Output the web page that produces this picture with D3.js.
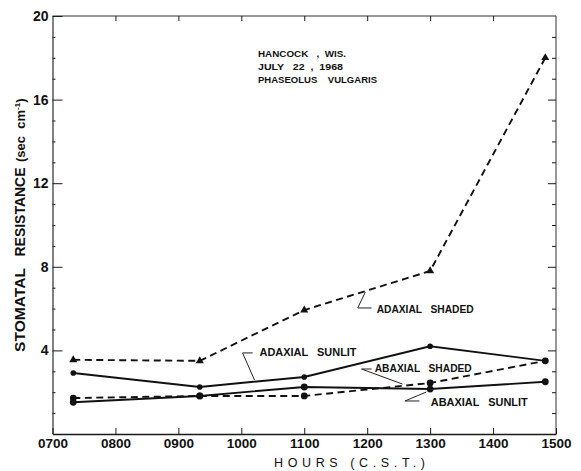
<!DOCTYPE html>
<html>
<head>
<meta charset="utf-8">
<script src="https://cdn.jsdelivr.net/npm/d3@7"></script>
<style>
  body { margin: 0; background: #fff; }
  svg { display: block; font-family: "Liberation Sans", Arial, sans-serif; }
  svg text { white-space: pre; }
  .axis path, .axis line { stroke: #1a1a1a; }
  .axis text { fill: #111; font-weight: bold; }
</style>
</head>
<body>
<div id="chart"></div>
<script>
// Stomatal resistance, Hancock WIS, July 22 1968 (Phaseolus vulgaris)
const hours = [7.33, 9.34, 11.0, 13.0, 14.83];
const adaxialShaded = [3.55, 3.5, 5.93, 7.8, 18.0];
const adaxialSunlit = [2.92, 2.25, 2.73, 4.2, 3.5];
const abaxialShaded = [1.72, 1.82, 1.82, 2.44, 3.5];
const abaxialSunlit = [1.52, 1.82, 2.25, 2.15, 2.5];

const xTicks = [7, 8, 9, 10, 11, 12, 13, 14, 15];
const xTickLabels = ['0700', '0800', '0900', '1000', '1100', '1200', '1300', '1400', '1500'];
const yTicks = [4, 8, 12, 16, 20];
const yMinorTicks = d3.range(1, 20);

const noteLines = ['HANCOCK   ,  WIS.', 'JULY   22  ,  1968', 'PHASEOLUS    VULGARIS'];
const noteWidths = [88, 85, 119];

// label text, anchor point [hour, value] for text, pointer polyline in data units
const seriesLabels = [
  { text: 'ADAXIAL   SHADED', at: [12.15, 5.98], pointer: [[11.97, 6.79], [11.85, 6.03], [12.07, 6.03]] },
  { text: 'ADAXIAL   SUNLIT', at: [10.29, 3.92], pointer: [[10.21, 2.58], [10.02, 3.88], [10.18, 3.88]] },
  { text: 'ABAXIAL   SHADED', at: [12.12, 3.16], pointer: [[12.56, 2.39], [11.91, 3.11], [12.07, 3.11]] },
  { text: 'ABAXIAL   SUNLIT', at: [13.01, 1.53], pointer: [[12.94, 2.01], [12.60, 1.58], [12.83, 1.58]] }
];

const series = [
  { name: 'adaxialShaded', values: adaxialShaded, dashed: true, marker: 'triangle' },
  { name: 'adaxialSunlit', values: adaxialSunlit, dashed: false, marker: 'dot' },
  { name: 'abaxialShaded', values: abaxialShaded, dashed: true, marker: 'circle' },
  { name: 'abaxialSunlit', values: abaxialSunlit, dashed: false, marker: 'circle' }
];

const W = 581, H = 471;
const margin = { top: 16, right: 25, bottom: 37, left: 52.5 };
const width = W - margin.left - margin.right;
const height = H - margin.top - margin.bottom;

const svg = d3.select('#chart').append('svg')
  .attr('width', W)
  .attr('height', H);

const g = svg.append('g')
  .attr('transform', `translate(${margin.left},${margin.top})`);

const x = d3.scaleLinear().domain([7, 15]).range([0, width]);
const y = d3.scaleLinear().domain([0, 20]).range([height, 0]);

// frame: top and right sides
g.append('line').attr('x1', 0).attr('x2', width).attr('y1', 0).attr('y2', 0)
  .attr('stroke', '#333').attr('stroke-width', 1);
g.append('line').attr('x1', width).attr('x2', width).attr('y1', 0).attr('y2', height)
  .attr('stroke', '#333').attr('stroke-width', 1);

// bottom axis (ticks point up)
const xAxisG = g.append('g')
  .attr('class', 'axis')
  .attr('transform', `translate(0,${height})`)
  .call(d3.axisBottom(x).tickValues(xTicks)
    .tickFormat((d, i) => xTickLabels[i])
    .tickSize(-6).tickSizeOuter(0).tickPadding(4));
xAxisG.select('.domain').attr('stroke-width', 1.4);
xAxisG.selectAll('text').style('font-size', '13.5px');

// top ticks (point down)
const topAxis = g.append('g')
  .attr('class', 'axis')
  .call(d3.axisTop(x).tickValues(xTicks.slice(1, -1)).tickFormat('').tickSize(-5).tickSizeOuter(0));
topAxis.select('.domain').remove();

// left axis: major + minor ticks inside
const yAxisG = g.append('g')
  .attr('class', 'axis')
  .call(d3.axisLeft(y).tickValues(yTicks).tickSize(-10).tickSizeOuter(0).tickPadding(4));
yAxisG.select('.domain').attr('stroke-width', 1.1);
yAxisG.selectAll('text').style('font-size', '14px');

const yMinorG = g.append('g')
  .attr('class', 'axis')
  .call(d3.axisLeft(y).tickValues(yMinorTicks.filter(v => v % 4 !== 0)).tickFormat('').tickSize(-3));
yMinorG.select('.domain').remove();

// right axis ticks inside
const yRightG = g.append('g')
  .attr('class', 'axis')
  .attr('transform', `translate(${width},0)`)
  .call(d3.axisRight(y).tickValues(yTicks.slice(0, -1)).tickFormat('').tickSize(-8).tickSizeOuter(0));
yRightG.select('.domain').remove();
const yRightMinor = g.append('g')
  .attr('class', 'axis')
  .attr('transform', `translate(${width},0)`)
  .call(d3.axisRight(y).tickValues(yMinorTicks.filter(v => v % 4 !== 0)).tickFormat('').tickSize(-4));
yRightMinor.select('.domain').remove();

// axis titles
svg.append('text')
  .attr('x', 274).attr('y', 467)
  .attr('textLength', 151).attr('lengthAdjust', 'spacing')
  .style('font-size', '12.5px')
  .attr('fill', '#111')
  .text('HOURS (C.S.T.)');

const yTitle = svg.append('g').attr('transform', 'translate(25,0) rotate(-90)');
yTitle.append('text').attr('x', -310).attr('text-anchor', 'middle')
  .attr('textLength', 84).attr('lengthAdjust', 'spacingAndGlyphs')
  .style('font-size', '14px').style('font-weight', 'bold').attr('fill', '#111')
  .text('STOMATAL');
yTitle.append('text').attr('x', -212).attr('text-anchor', 'middle')
  .attr('textLength', 89).attr('lengthAdjust', 'spacingAndGlyphs')
  .style('font-size', '14px').style('font-weight', 'bold').attr('fill', '#111')
  .text('RESISTANCE');
const unitText = yTitle.append('text').attr('x', -162)
  .style('font-size', '13px').style('font-weight', 'bold').attr('fill', '#111');
unitText.append('tspan').text('(sec  cm');
unitText.append('tspan').attr('dy', -5).style('font-size', '8px').text('-1');
unitText.append('tspan').attr('dy', 5).text(')');

// lines
const line = d3.line()
  .x((d, i) => x(hours[i]))
  .y(d => y(d));

series.forEach(s => {
  g.append('path')
    .datum(s.values)
    .attr('fill', 'none')
    .attr('stroke', '#111')
    .attr('stroke-width', 1.9)
    .attr('stroke-dasharray', s.dashed ? '7,4.5' : null)
    .attr('d', line);

  const pts = g.selectAll(null)
    .data(s.values)
    .enter();

  if (s.marker === 'triangle') {
    pts.append('path')
      .attr('d', d3.symbol(d3.symbolTriangle, 28))
      .attr('transform', (d, i) => `translate(${x(hours[i])},${y(d)})`)
      .attr('fill', '#111');
  } else {
    pts.append('circle')
      .attr('cx', (d, i) => x(hours[i]))
      .attr('cy', d => y(d))
      .attr('r', s.marker === 'dot' ? 2.8 : 3.4)
      .attr('fill', '#111');
  }
});

// series labels with pointers
const pointerLine = d3.line().x(d => x(d[0])).y(d => y(d[1]));
seriesLabels.forEach(l => {
  g.append('path')
    .attr('d', pointerLine(l.pointer))
    .attr('fill', 'none')
    .attr('stroke', '#222')
    .attr('stroke-width', 1);
  g.append('text')
    .attr('x', x(l.at[0]))
    .attr('y', y(l.at[1]))
    .attr('dy', '0.36em')
    .style('font-size', '10.5px')
    .style('font-weight', 'bold')
    .attr('fill', '#111')
    .attr('textLength', 97)
    .attr('lengthAdjust', 'spacingAndGlyphs')
    .text(l.text);
});

// site note
g.selectAll('.note')
  .data(noteLines)
  .enter()
  .append('text')
  .attr('class', 'note')
  .attr('x', 258 - margin.left)
  .attr('y', (d, i) => 57 - margin.top + i * 13)
  .style('font-size', '9px')
  .style('font-weight', 'bold')
  .attr('fill', '#111')
  .attr('textLength', (d, i) => noteWidths[i])
  .attr('lengthAdjust', 'spacingAndGlyphs')
  .text(d => d);
</script>
</body>
</html>
